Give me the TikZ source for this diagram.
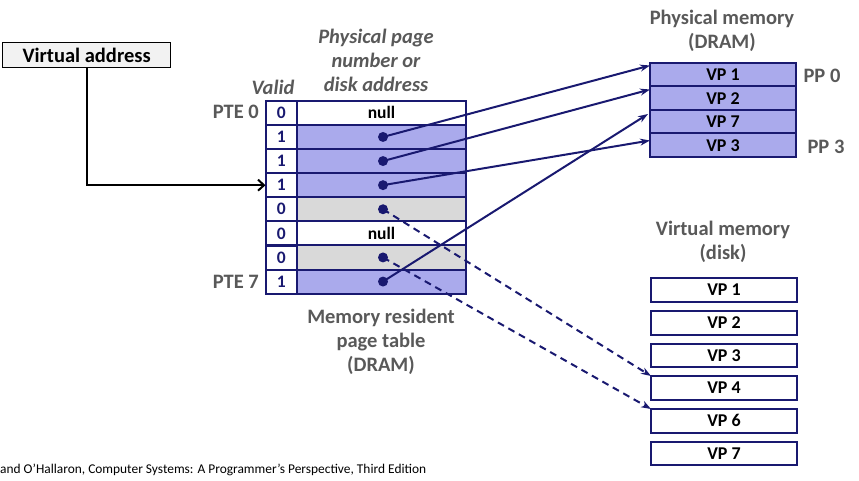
\documentclass[tikz,border=0pt]{standalone}
\usepackage{fontspec}
\setmainfont{Carlito}
\usetikzlibrary{arrows.meta}
\definecolor{navy}{RGB}{25,25,112}
\definecolor{lav}{RGB}{170,170,236}
\definecolor{cellgray}{RGB}{217,217,217}
\definecolor{txtgray}{RGB}{89,89,89}
\definecolor{vabox}{RGB}{242,242,242}
\begin{document}
\begin{tikzpicture}[x=1pt,y=-1pt,
  cell/.style={draw=navy, line width=2pt, minimum height=24.2pt, inner sep=0pt, outer sep=0pt, anchor=north west, font=\bfseries\fontsize{17.5}{17.5}\selectfont},
  vcell/.style={cell, minimum width=31.5pt, text=navy},
  acell/.style={cell, minimum width=169pt},
  mem/.style={draw=navy, line width=2pt, minimum width=146pt, minimum height=23.5pt, inner sep=0pt, outer sep=0pt, anchor=north west, font=\bfseries\fontsize{18}{18}\selectfont},
  lbl/.style={text=txtgray, font=\bfseries\fontsize{20.5}{24}\selectfont, align=center, inner sep=0pt},
  ilbl/.style={lbl, font=\bfseries\itshape\fontsize{20.5}{24}\selectfont},
  dotn/.style={circle, fill=navy, minimum size=10pt, inner sep=0pt},
  ptr/.style={navy, line width=2pt, -{Stealth[length=10pt,width=7pt]}},
  dptr/.style={ptr, dash pattern=on 7pt off 5pt}
]
\useasboundingbox (0,0) rectangle (859,481);

% Virtual address box
\node[draw=black, fill=vabox, line width=1.2pt, minimum width=168pt, minimum height=25pt, inner sep=0pt, anchor=north west, font=\bfseries\fontsize{20.5}{20.5}\selectfont] (va) at (2,42) {Virtual address};

% page table
\foreach \i/\v/\f/\t in {0/0/white/null,1/1/lav/,2/1/lav/,3/1/lav/,4/0/cellgray/,5/0/white/null,6/0/cellgray/,7/1/lav/}{
  \node[vcell] (v\i) at (265.5,{100.8+24.1*\i}) {\v};
  \node[acell, fill=\f] (a\i) at (297,{100.8+24.1*\i}) {\t};
}
\foreach \i in {1,2,3,4,6,7}{
  \node[dotn] (d\i) at (383,{112.85+24.1*\i}) {};
}

% labels for table
\node[ilbl] (valid) at (273,87) {Valid};
\node[lbl, anchor=east] (pte0) at (259,112) {PTE 0};
\node[lbl, anchor=east] (pte7) at (259,282) {PTE 7};
\node[ilbl] (ppn) at (376,60) {Physical page\\number or\\disk address};
\node[lbl] (mrpt) at (381,342) {Memory resident\\page table\\(DRAM)};

% physical memory
\node[lbl] (pmt) at (722,31) {Physical memory\\(DRAM)};
\foreach \i/\t in {1/VP 1,2/VP 2,3/VP 7,4/VP 3}{
  \node[mem, fill=lav] (pm\i) at (650,{63+23.5*(\i-1)}) {\t};
}
\node[lbl] (pp0) at (822,76) {PP 0};
\node[lbl] (pp3) at (826,147) {PP 3};

% virtual memory
\node[lbl] (vmt) at (723,242) {Virtual memory\\(disk)};
\foreach \i/\t/\y in {1/VP 1/278.3,2/VP 2/311,3/VP 3/343.5,4/VP 4/376,5/VP 6/409,6/VP 7/441.7}{
  \node[mem, fill=white] (vd\i) at (651,\y) {\t};
}

% footer
\node[anchor=west, inner sep=0pt, font=\fontsize{13.4}{13.4}\selectfont] (foot) at (0,470) {and O’Hallaron, Computer Systems: A Programmer’s Perspective, Third Edition};

% virtual address arrow
\draw[black, line width=2.2pt, -{Straight Barb[length=6pt,width=11pt,line width=2pt]}] (va.south) |- (v3.west);

% pointers
\draw[ptr] (d1.center) -- ([yshift=-2.5pt]pm1.north west);
\draw[ptr] (d2.center) -- ([yshift=-3pt]pm2.north west);
\draw[ptr] (d3.center) -- ([yshift=-7pt]pm4.north west);
\draw[ptr] (d7.center) -- ([yshift=-4pt,xshift=-2pt]pm3.north west);
\draw[dptr] (d4.center) -- (vd4.north west);
\draw[dptr] (d6.center) -- (vd5.north west);
\end{tikzpicture}
\end{document}
